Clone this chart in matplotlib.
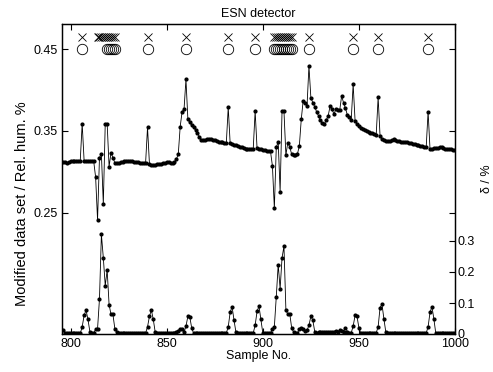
import matplotlib
matplotlib.use("Agg")
import matplotlib.pyplot as plt
import numpy as np

plt.rcParams['font.family'] = ['Liberation Sans', 'DejaVu Sans']

samples = list(range(796, 1001))

rel_hum = [
    0.312, 0.312, 0.311, 0.312, 0.313, 0.313, 0.313, 0.314, 0.314, 0.314,  # 796-805
    0.359, 0.314, 0.314, 0.314, 0.314, 0.313, 0.313, 0.2935, 0.2415, 0.3175,  # 806-815
    0.322, 0.261, 0.359, 0.359, 0.3065, 0.3235, 0.3175, 0.311, 0.311, 0.311,  # 816-825
    0.312, 0.312, 0.313, 0.313, 0.314, 0.313, 0.313, 0.312, 0.312, 0.312,  # 826-835
    0.311, 0.311, 0.311, 0.311, 0.3545, 0.310, 0.309, 0.309, 0.309, 0.310,  # 836-845
    0.310, 0.310, 0.311, 0.311, 0.312, 0.312, 0.311, 0.311, 0.312, 0.3155,  # 846-855
    0.3216, 0.3553, 0.3736, 0.3764, 0.413, 0.3646, 0.3606, 0.357, 0.3545, 0.3512,  # 856-865
    0.3472, 0.343, 0.3395, 0.3387, 0.339, 0.340, 0.340, 0.340, 0.339, 0.339,  # 866-875
    0.338, 0.337, 0.337, 0.336, 0.335, 0.335, 0.3789, 0.335, 0.334, 0.333,  # 876-885
    0.333, 0.332, 0.331, 0.330, 0.329, 0.328, 0.328, 0.328, 0.328, 0.328,  # 886-895
    0.3744, 0.3289, 0.328, 0.328, 0.327, 0.327, 0.326, 0.326, 0.325, 0.3073,  # 896-905
    0.2557, 0.330, 0.337, 0.276, 0.3744, 0.3744, 0.3207, 0.3358, 0.331, 0.3215,  # 906-915
    0.3207, 0.3207, 0.322, 0.3317, 0.3642, 0.387, 0.3846, 0.3805, 0.4293, 0.3906,  # 916-925
    0.3846, 0.3797, 0.3732, 0.3683, 0.3634, 0.3593, 0.3585, 0.3634, 0.3683, 0.3805,  # 926-935
    0.3764, 0.3707, 0.3764, 0.3756, 0.375, 0.3927, 0.3846, 0.3776, 0.3695, 0.367,  # 936-945
    0.364, 0.407, 0.3626, 0.358, 0.356, 0.354, 0.352, 0.351, 0.350, 0.349,  # 946-955
    0.348, 0.347, 0.346, 0.345, 0.391, 0.344, 0.340, 0.339, 0.338, 0.338,  # 956-965
    0.338, 0.339, 0.340, 0.339, 0.338, 0.338, 0.337, 0.337, 0.336, 0.336,  # 966-975
    0.335, 0.335, 0.334, 0.334, 0.333, 0.333, 0.332, 0.332, 0.331, 0.330,  # 976-985
    0.3736, 0.3277, 0.328, 0.329, 0.329, 0.329, 0.330, 0.330, 0.329, 0.328,  # 986-995
    0.328, 0.328, 0.328, 0.327, 0.327,  # 996-1000
]

delta = [
    0.012, 0.003, 0.002, 0.003, 0.004, 0.002, 0.002, 0.003, 0.002, 0.002,  # 796-805
    0.023, 0.060, 0.077, 0.047, 0.008, 0.002, 0.003, 0.015, 0.017, 0.1135,  # 806-815
    0.321, 0.246, 0.156, 0.206, 0.095, 0.063, 0.063, 0.017, 0.006, 0.003,  # 816-825
    0.002, 0.002, 0.003, 0.002, 0.002, 0.003, 0.002, 0.002, 0.002, 0.003,  # 826-835
    0.002, 0.002, 0.002, 0.003, 0.023, 0.057, 0.077, 0.047, 0.006, 0.002,  # 836-845
    0.002, 0.002, 0.002, 0.003, 0.002, 0.002, 0.002, 0.003, 0.002, 0.005,  # 846-855
    0.010, 0.017, 0.015, 0.006, 0.025, 0.057, 0.055, 0.019, 0.002, 0.002,  # 856-865
    0.002, 0.002, 0.002, 0.002, 0.002, 0.002, 0.002, 0.002, 0.002, 0.002,  # 866-875
    0.002, 0.002, 0.002, 0.002, 0.002, 0.003, 0.023, 0.070, 0.088, 0.045,  # 876-885
    0.006, 0.002, 0.002, 0.002, 0.002, 0.002, 0.002, 0.002, 0.002, 0.003,  # 886-895
    0.028, 0.073, 0.090, 0.047, 0.003, 0.002, 0.002, 0.002, 0.004, 0.015,  # 896-905
    0.023, 0.120, 0.224, 0.146, 0.246, 0.283, 0.079, 0.063, 0.066, 0.020,  # 906-915
    0.006, 0.002, 0.003, 0.015, 0.019, 0.017, 0.010, 0.012, 0.028, 0.057,  # 916-925
    0.045, 0.008, 0.004, 0.005, 0.006, 0.005, 0.006, 0.008, 0.006, 0.005,  # 926-935
    0.007, 0.008, 0.010, 0.008, 0.012, 0.010, 0.008, 0.020, 0.008, 0.003,  # 936-945
    0.004, 0.025, 0.060, 0.057, 0.020, 0.002, 0.002, 0.002, 0.002, 0.002,  # 946-955
    0.002, 0.002, 0.002, 0.004, 0.023, 0.085, 0.096, 0.049, 0.006, 0.002,  # 956-965
    0.002, 0.002, 0.003, 0.002, 0.002, 0.002, 0.002, 0.003, 0.002, 0.002,  # 966-975
    0.002, 0.002, 0.002, 0.002, 0.002, 0.002, 0.002, 0.002, 0.002, 0.003,  # 976-985
    0.023, 0.070, 0.088, 0.049, 0.002, 0.002, 0.002, 0.002, 0.002, 0.002,  # 986-995
    0.002, 0.002, 0.002, 0.002, 0.002,  # 996-1000
]

detected = [806, 814, 815, 816, 817, 818, 819, 820, 821, 822, 823, 840, 860, 882, 896,
            906, 907, 908, 909, 910, 911, 912, 913, 914, 915, 924, 947, 960, 986]
true_faults = [806, 819, 820, 821, 822, 823, 840, 860, 882, 896,
               906, 907, 908, 909, 910, 911, 912, 913, 914, 915, 924, 947, 960, 986]
detect_level = 0.465
fault_level = 0.45

x_ticks = [800, 850, 900, 950, 1000]
left_ticks = [0.25, 0.35, 0.45]
right_ticks = [0, 0.1, 0.2, 0.3]
right_ticklabels = ['0', '0.1', '0.2', '0.3']

W, H = 493, 372
fig = plt.figure(figsize=(W / 100, H / 100), dpi=100)
ax = fig.add_axes([62 / W, 1 - 334 / H, (455 - 62) / W, (334 - 24) / H])
ax2 = ax.twinx()

fs = 9
ax.plot(samples, rel_hum, '-', color='k', lw=0.6, marker='.', ms=4)
ax.plot(detected, [detect_level] * len(detected), 'x', color='k', ms=5.8, mew=0.6)
ax.plot(true_faults, [fault_level] * len(true_faults), 'o', mfc='none', mec='k', ms=7.5, mew=0.6)
ax2.plot(samples, delta, '-', color='k', lw=0.6, marker='.', ms=4)

ax.set_xlim(795.5, 1000)
ax.set_ylim(0.1024, 0.4805)
ax2.set_ylim(0, 1.0)

ax.set_xticks(x_ticks)
ax.set_yticks(left_ticks)
ax.set_yticklabels(['0.25', '0.35', '0.45'])
ax2.set_yticks(right_ticks)
ax2.set_yticklabels(right_ticklabels)

ax.tick_params(axis='both', direction='in', length=4, width=0.8, labelsize=fs,
               top=True, right=True, pad=3)
ax2.tick_params(axis='y', direction='in', length=4, width=0.8, labelsize=fs, pad=2)

for a in (ax, ax2):
    for s in a.spines.values():
        s.set_linewidth(0.9)

ax.set_title('ESN detector', fontsize=fs, pad=5)
ax.set_xlabel('Sample No.', fontsize=fs, labelpad=0)
ax.set_ylabel('Modified data set / Rel. hum. %', fontsize=10.5)
ax.yaxis.set_label_coords(-0.085, 0.42)
ax2.set_ylabel('δ / %', fontsize=fs, labelpad=4)

fig.savefig('out.png', dpi=100)
